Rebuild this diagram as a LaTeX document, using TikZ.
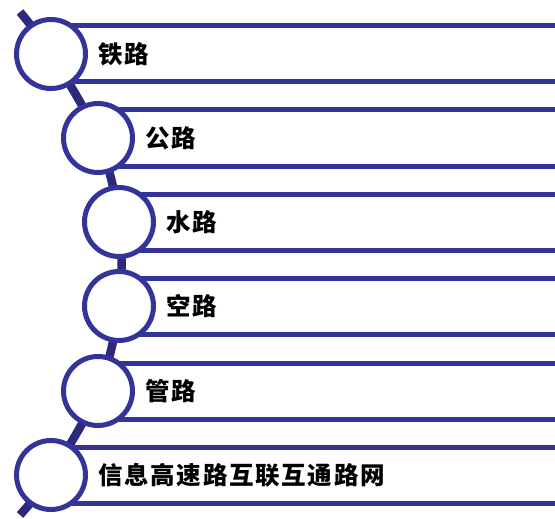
\documentclass[tikz,border=0pt]{standalone}
\usepackage{fontspec}
\newfontfamily\cjk[LetterSpace=7]{Noto Sans CJK SC}
\definecolor{arccol}{RGB}{43,42,122}
\definecolor{ringcol}{RGB}{51,51,153}
\begin{document}
\begin{tikzpicture}[x=1pt,y=-1pt,
  ring/.style={circle,draw=ringcol,line width=5pt,fill=white,minimum size=69pt,inner sep=0pt},
  bar/.style={draw=ringcol,line width=5pt},
  spine/.style={draw=arccol,line width=8.5pt},
  lab/.style={anchor=west,inner sep=0pt,font=\cjk\bfseries\fontsize{24.5}{28}\selectfont}]
\useasboundingbox (0,0) rectangle (555,519);
\coordinate (top) at (20,12);
\coordinate (bot) at (20,515);
\coordinate (c1) at (51,54);
\coordinate (c2) at (98,138);
\coordinate (c3) at (119,222);
\coordinate (c4) at (119,306);
\coordinate (c5) at (98,391);
\coordinate (c6) at (51,475);
\draw[spine] plot[smooth,tension=0.6] coordinates {(top) (c1) (c2) (c3) (c4) (c5) (c6) (bot)};
\foreach \i/\ya/\yb in {1/26/82,2/110/166,3/194/250,4/278/334,5/363/419,6/447/503}{
  \coordinate (e\i a) at (560,\ya);
  \coordinate (e\i b) at (560,\yb);
  \draw[bar] (c\i |- e\i a) -- (e\i a);
  \draw[bar] (c\i |- e\i b) -- (e\i b);
}
\foreach \i in {1,...,6}{
  \node[ring] (n\i) at (c\i) {};
}
\node[lab] (t1) at ([xshift=47pt]c1) {铁路};
\node[lab] (t2) at ([xshift=47pt]c2) {公路};
\node[lab] (t3) at ([xshift=47pt]c3) {水路};
\node[lab] (t4) at ([xshift=47pt]c4) {空路};
\node[lab] (t5) at ([xshift=47pt]c5) {管路};
\node[lab] (t6) at ([xshift=47pt]c6) {信息高速路互联互通路网};
\end{tikzpicture}
\end{document}
